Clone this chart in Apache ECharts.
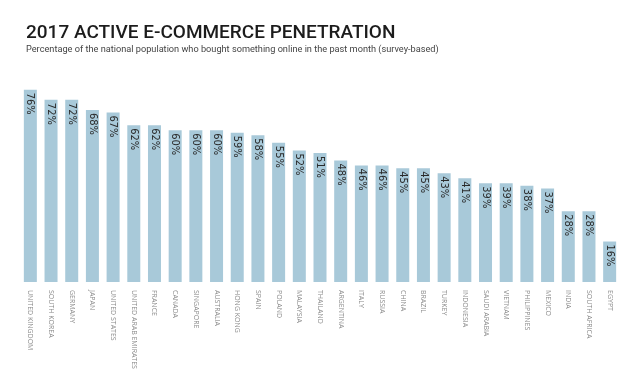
<!DOCTYPE html>
<html>
<head>
<meta charset="utf-8">
<script src="https://cdn.jsdelivr.net/npm/echarts@6/dist/echarts.min.js"></script>
<style>
  html, body { margin: 0; padding: 0; background: #fff; }
  #chart { width: 640px; height: 376px; }
</style>
</head>
<body>
<div id="chart"></div>
<script>
const countries = [
  "UNITED KINGDOM", "SOUTH KOREA", "GERMANY", "JAPAN", "UNITED STATES",
  "UNITED ARAB EMIRATES", "FRANCE", "CANADA", "SINGAPORE", "AUSTRALIA",
  "HONG KONG", "SPAIN", "POLAND", "MALAYSIA", "THAILAND",
  "ARGENTINA", "ITALY", "RUSSIA", "CHINA", "BRAZIL",
  "TURKEY", "INDONESIA", "SAUDI ARABIA", "VIETNAM", "PHILIPPINES",
  "MEXICO", "INDIA", "SOUTH AFRICA", "EGYPT"
];
const penetration = [
  76, 72, 72, 68, 67,
  62, 62, 60, 60, 60,
  59, 58, 55, 52, 51,
  48, 46, 46, 45, 45,
  43, 41, 39, 39, 38,
  37, 28, 28, 16
];

const chart = echarts.init(document.getElementById("chart"));
chart.setOption({
  animation: false,
  title: {
    text: "2017 ACTIVE E-COMMERCE PENETRATION",
    subtext: "Percentage of the national population who bought something online in the past month (survey-based)",
    left: 21,
    top: 19,
    itemGap: 2,
    textStyle: {
      fontFamily: "Roboto",
      fontSize: 19,
      fontWeight: 500,
      color: "#1c1c1c"
    },
    subtextStyle: {
      fontFamily: "Roboto",
      fontSize: 9.2,
      color: "#444"
    }
  },
  grid: {
    left: 20,
    right: 20,
    top: 29,
    bottom: 94
  },
  xAxis: {
    type: "category",
    data: countries,
    axisLine: { show: false },
    axisTick: { show: false },
    axisLabel: {
      rotate: -90,
      interval: 0,
      margin: 8,
      fontSize: 7,
      fontFamily: "Open Sans",
      color: "#8a8a8a"
    }
  },
  yAxis: {
    type: "value",
    min: 0,
    max: 100,
    show: false,
    splitLine: { show: false }
  },
  series: [
    {
      type: "bar",
      data: penetration,
      barWidth: 13,
      itemStyle: { color: "#a8c9d9" },
      label: {
        show: true,
        position: "insideTop",
        distance: 3,
        rotate: -90,
        align: "left",
        verticalAlign: "middle",
        formatter: "{c}%",
        fontFamily: "DejaVu Sans Condensed",
        fontSize: 11,
        color: "#2a2a2a"
      }
    }
  ]
});
</script>
</body>
</html>
